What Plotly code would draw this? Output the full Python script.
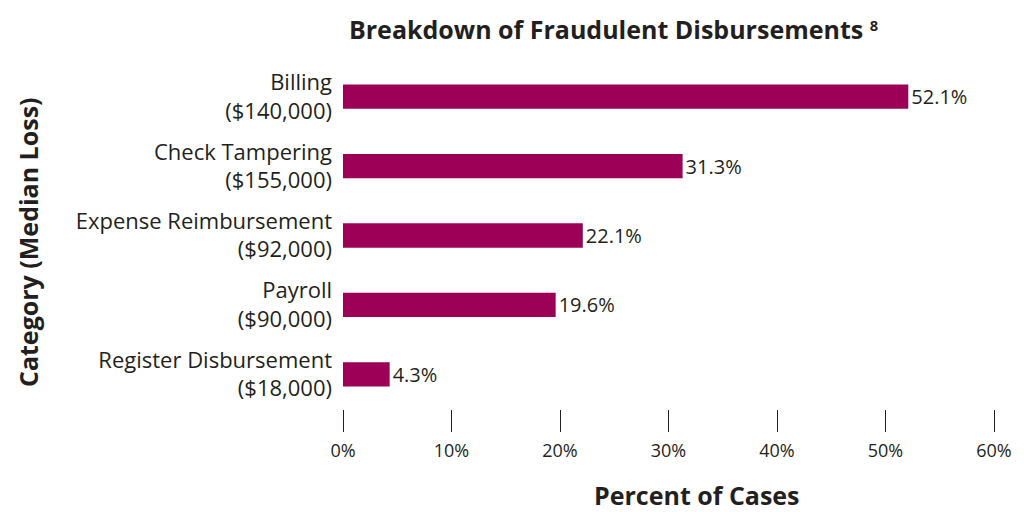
import plotly.graph_objects as go

categories = [
    "Billing<br>($140,000)",
    "Check Tampering<br>($155,000)",
    "Expense Reimbursement<br>($92,000)",
    "Payroll<br>($90,000)",
    "Register Disbursement<br>($18,000)",
]
percent_of_cases = [52.1, 31.3, 22.1, 19.6, 4.3]
x_ticks = [0, 10, 20, 30, 40, 50, 60]
x_tick_labels = ["0%", "10%", "20%", "30%", "40%", "50%", "60%"]

bar_color = "#9D0057"
text_color = "#231F20"
font_family = "Open Sans, Noto Sans, sans-serif"

fig = go.Figure()
fig.add_trace(go.Bar(
    y=categories,
    x=percent_of_cases,
    orientation="h",
    marker=dict(color=bar_color, line=dict(width=0)),
    text=[f"{v}%" for v in percent_of_cases],
    textposition="outside",
    constraintext="none",
    textfont=dict(size=20, color=text_color, family=font_family),
    cliponaxis=False,
))

# page body has an 8px margin, so the figure is a little smaller than the window
fig.update_layout(
    width=1016,
    height=504,
    margin=dict(l=335, r=30, t=54, b=103),
    plot_bgcolor="white",
    paper_bgcolor="white",
    showlegend=False,
    bargap=0.65,
    font=dict(family=font_family, color=text_color),
    title=dict(
        text="Breakdown of Fraudulent Disbursements <span style='font-size:21px'><sup>8</sup></span>",
        x=0.596, xanchor="center", y=0.955, yanchor="middle",
        font=dict(size=25, weight=700, color=text_color),
    ),
)

fig.update_xaxes(
    range=[0, 60],
    tickvals=x_ticks,
    ticktext=x_tick_labels,
    showgrid=False,
    zeroline=False,
    showline=False,
    ticks="outside",
    ticklen=22,
    tickwidth=1,
    tickcolor=text_color,
    tickfont=dict(size=18, color=text_color),
    ticklabelstandoff=3,
)

fig.update_yaxes(
    autorange="reversed",
    showgrid=False,
    zeroline=False,
    showline=False,
    ticks="",
    ticklabelstandoff=10,
    tickfont=dict(size=22, color=text_color),
)

fig.add_annotation(
    text="Category (Median Loss)",
    xref="paper", yref="paper",
    x=-0.484, y=0.481,
    xanchor="center", yanchor="middle",
    textangle=-90,
    showarrow=False,
    font=dict(size=25, weight=700, color=text_color),
)
fig.add_annotation(
    text="Percent of Cases",
    xref="paper", yref="paper",
    x=0.544, y=-0.247,
    xanchor="center", yanchor="middle",
    showarrow=False,
    font=dict(size=25, weight=700, color=text_color),
)

fig.write_html("out.html")
